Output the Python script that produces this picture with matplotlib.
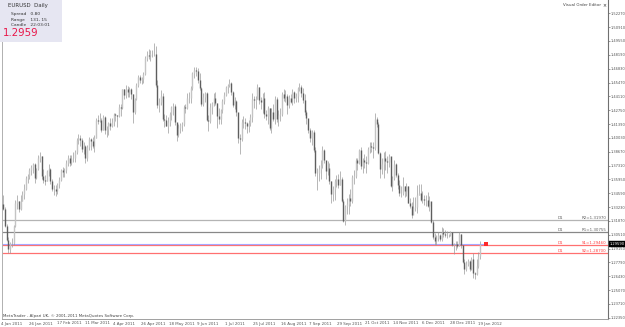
import matplotlib
matplotlib.use("Agg")
import matplotlib.pyplot as plt
import matplotlib.transforms as mtransforms
import pandas as pd
import numpy as np

# ---------------- data ----------------
symbol = "EURUSD"
timeframe = "Daily"
spread_txt = "0.80"
range_txt = "131, 15"
candle_txt = "22:03:01"
bid = 1.2959
first_open = 1.3357

dates = pd.bdate_range("2011-01-04", "2012-01-19")

closes = [
    # Jan 2011
    1.3305, 1.3140, 1.3000, 1.2910, 1.2965, 1.2970, 1.3140, 1.3360, 1.3383, 1.3300,
    1.3385, 1.3455, 1.3505, 1.3613, 1.3630, 1.3687, 1.3712, 1.3745, 1.3605, 1.3700,
    # Feb
    1.3800, 1.3820, 1.3625, 1.3585, 1.3580, 1.3680, 1.3695, 1.3580, 1.3500, 1.3500,
    1.3485, 1.3545, 1.3590, 1.3690, 1.3665, 1.3685, 1.3760, 1.3800, 1.3755, 1.3800,
    # Mar
    1.3800, 1.3860, 1.3980, 1.4000, 1.3985, 1.3895, 1.3925, 1.3800, 1.3910, 1.3995,
    1.3970, 1.3925, 1.4000, 1.4180, 1.4170, 1.4180, 1.4085, 1.4210, 1.4085, 1.4090,
    1.4145, 1.4120, 1.4160,
    # Apr
    1.4235, 1.4225, 1.4215, 1.4305, 1.4295, 1.4480, 1.4425, 1.4485, 1.4450, 1.4480,
    1.4430, 1.4255, 1.4380, 1.4525, 1.4600, 1.4570, 1.4580, 1.4635, 1.4790, 1.4815,
    1.4810,
    # May
    1.4830, 1.4830, 1.4830, 1.4525, 1.4325, 1.4355, 1.4415, 1.4185, 1.4175, 1.4120,
    1.4155, 1.4235, 1.4305, 1.4315, 1.4155, 1.4030, 1.4095, 1.4125, 1.4135, 1.4310,
    1.4295, 1.4390,
    # Jun
    1.4390, 1.4490, 1.4640, 1.4670, 1.4660, 1.4570, 1.4495, 1.4340, 1.4400, 1.4440,
    1.4180, 1.4165, 1.4305, 1.4345, 1.4395, 1.4350, 1.4220, 1.4185, 1.4275, 1.4365,
    1.4425, 1.4500,
    # Jul
    1.4525, 1.4545, 1.4450, 1.4330, 1.4370, 1.4260, 1.4005, 1.3990, 1.4160, 1.4160,
    1.4150, 1.4120, 1.4150, 1.4210, 1.4380, 1.4375, 1.4385, 1.4500, 1.4375, 1.4360,
    1.4395,
    # Aug
    1.4235, 1.4215, 1.4295, 1.4100, 1.4260, 1.4190, 1.4385, 1.4185, 1.4225, 1.4240,
    1.4435, 1.4395, 1.4410, 1.4330, 1.4395, 1.4360, 1.4450, 1.4395, 1.4410, 1.4495,
    1.4500, 1.4445, 1.4375,
    # Sep
    1.4255, 1.4200, 1.4080, 1.4005, 1.4060, 1.3880, 1.3655, 1.3660, 1.3695, 1.3740,
    1.3880, 1.3790, 1.3680, 1.3705, 1.3575, 1.3450, 1.3505, 1.3580, 1.3595, 1.3540,
    1.3600, 1.3385,
    # Oct
    1.3190, 1.3330, 1.3350, 1.3410, 1.3380, 1.3620, 1.3625, 1.3785, 1.3760, 1.3880,
    1.3725, 1.3790, 1.3765, 1.3760, 1.3890, 1.3920, 1.3915, 1.3900, 1.4190, 1.4140,
    1.3850,
    # Nov
    1.3695, 1.3750, 1.3800, 1.3775, 1.3765, 1.3825, 1.3530, 1.3605, 1.3750, 1.3640,
    1.3535, 1.3460, 1.3460, 1.3525, 1.3485, 1.3525, 1.3360, 1.3330, 1.3240, 1.3315,
    1.3320, 1.3445,
    # Dec
    1.3465, 1.3390, 1.3405, 1.3390, 1.3390, 1.3335, 1.3385, 1.3175, 1.3030, 1.2985,
    1.3015, 1.3045, 1.3010, 1.3075, 1.3060, 1.3050, 1.3045, 1.3050, 1.3075, 1.2945,
    1.2955, 1.2960,
    # Jan 2012
    1.2935, 1.3055, 1.2945, 1.2785, 1.2715, 1.2765, 1.2790, 1.2715, 1.2815, 1.2675,
    1.2665, 1.2740, 1.2845, 1.2959,
]

highs = [
    1.3440, 1.3325, 1.3160, 1.3030, 1.2980, 1.3020, 1.3150, 1.3395, 1.3440, 1.3385,
    1.3440, 1.3485, 1.3545, 1.3625, 1.3650, 1.3710, 1.3740, 1.3760, 1.3760, 1.3710,
    1.3830, 1.3860, 1.3825, 1.3700, 1.3640, 1.3690, 1.3745, 1.3705, 1.3600, 1.3535,
    1.3535, 1.3560, 1.3620, 1.3700, 1.3720, 1.3710, 1.3785, 1.3830, 1.3835, 1.3830,
    1.3860, 1.3880, 1.4000, 1.4040, 1.4035, 1.4000, 1.3960, 1.3935, 1.3930, 1.4010,
    1.4000, 1.4010, 1.4030, 1.4195, 1.4230, 1.4245, 1.4195, 1.4225, 1.4220, 1.4115,
    1.4155, 1.4195, 1.4200,
    1.4250, 1.4250, 1.4230, 1.4340, 1.4340, 1.4485, 1.4480, 1.4520, 1.4510, 1.4500,
    1.4490, 1.4430, 1.4395, 1.4540, 1.4620, 1.4620, 1.4600, 1.4650, 1.4810, 1.4860,
    1.4880,
    1.4870, 1.4865, 1.4940, 1.4905, 1.4570, 1.4395, 1.4475, 1.4440, 1.4235, 1.4225,
    1.4205, 1.4260, 1.4320, 1.4345, 1.4340, 1.4120, 1.4135, 1.4145, 1.4160, 1.4330,
    1.4340, 1.4440,
    1.4455, 1.4515, 1.4650, 1.4695, 1.4695, 1.4690, 1.4640, 1.4500, 1.4440, 1.4450,
    1.4450, 1.4230, 1.4345, 1.4360, 1.4440, 1.4450, 1.4345, 1.4300, 1.4285, 1.4385,
    1.4455, 1.4515,
    1.4530, 1.4580, 1.4550, 1.4460, 1.4400, 1.4375, 1.4230, 1.4040, 1.4185, 1.4220,
    1.4200, 1.4155, 1.4175, 1.4240, 1.4440, 1.4410, 1.4410, 1.4530, 1.4500, 1.4400,
    1.4440,
    1.4450, 1.4280, 1.4315, 1.4300, 1.4300, 1.4340, 1.4410, 1.4400, 1.4280, 1.4300,
    1.4450, 1.4480, 1.4470, 1.4430, 1.4425, 1.4430, 1.4485, 1.4460, 1.4440, 1.4500,
    1.4545, 1.4520, 1.4490,
    1.4430, 1.4280, 1.4130, 1.4100, 1.4080, 1.4080, 1.3910, 1.3705, 1.3735, 1.3790,
    1.3920, 1.3895, 1.3730, 1.3775, 1.3755, 1.3580, 1.3525, 1.3595, 1.3640, 1.3650,
    1.3680, 1.3615,
    1.3400, 1.3340, 1.3410, 1.3455, 1.3500, 1.3640, 1.3690, 1.3800, 1.3800, 1.3890,
    1.3915, 1.3800, 1.3840, 1.3820, 1.3910, 1.3960, 1.3960, 1.3960, 1.4245, 1.4210,
    1.4155,
    1.3860, 1.3800, 1.3860, 1.3870, 1.3820, 1.3845, 1.3815, 1.3630, 1.3790, 1.3760,
    1.3660, 1.3590, 1.3530, 1.3615, 1.3530, 1.3555, 1.3530, 1.3410, 1.3370, 1.3420,
    1.3425, 1.3535,
    1.3550, 1.3550, 1.3485, 1.3440, 1.3440, 1.3470, 1.3430, 1.3370, 1.3200, 1.3065,
    1.3045, 1.3080, 1.3060, 1.3125, 1.3120, 1.3100, 1.3085, 1.3060, 1.3090, 1.3080,
    1.2965, 1.2990,
    1.2990, 1.3075, 1.3055, 1.2950, 1.2815, 1.2790, 1.2815, 1.2800, 1.2835, 1.2875,
    1.2680, 1.2815, 1.2880, 1.2985,
]

lows = [
    1.3290, 1.3130, 1.2990, 1.2875, 1.2867, 1.2930, 1.2950, 1.3125, 1.3300, 1.3270,
    1.3290, 1.3380, 1.3400, 1.3490, 1.3560, 1.3600, 1.3640, 1.3660, 1.3560, 1.3600,
    1.3690, 1.3770, 1.3595, 1.3560, 1.3535, 1.3575, 1.3625, 1.3550, 1.3480, 1.3440,
    1.3430, 1.3450, 1.3510, 1.3580, 1.3620, 1.3620, 1.3660, 1.3730, 1.3730, 1.3740,
    1.3770, 1.3770, 1.3840, 1.3940, 1.3920, 1.3860, 1.3845, 1.3760, 1.3780, 1.3885,
    1.3880, 1.3900, 1.3860, 1.4000, 1.4135, 1.4160, 1.4060, 1.4080, 1.4040, 1.4010,
    1.4035, 1.4080, 1.4110,
    1.4120, 1.4165, 1.4110, 1.4210, 1.4220, 1.4290, 1.4385, 1.4390, 1.4405, 1.4400,
    1.4385, 1.4150, 1.4240, 1.4375, 1.4505, 1.4545, 1.4530, 1.4545, 1.4620, 1.4760,
    1.4780,
    1.4760, 1.4795, 1.4810, 1.4505, 1.4300, 1.4255, 1.4330, 1.4165, 1.4110, 1.4115,
    1.4050, 1.4120, 1.4180, 1.4230, 1.4130, 1.3968, 1.4010, 1.4050, 1.4075, 1.4120,
    1.4245, 1.4290,
    1.4345, 1.4350, 1.4475, 1.4590, 1.4610, 1.4540, 1.4475, 1.4320, 1.4315, 1.4360,
    1.4170, 1.4074, 1.4145, 1.4240, 1.4320, 1.4330, 1.4100, 1.4140, 1.4135, 1.4250,
    1.4340, 1.4410,
    1.4440, 1.4500, 1.4425, 1.4310, 1.4285, 1.4220, 1.3950, 1.3840, 1.3970, 1.4100,
    1.4090, 1.4050, 1.4060, 1.4120, 1.4160, 1.4300, 1.4285, 1.4380, 1.4340, 1.4290,
    1.4250,
    1.4200, 1.4180, 1.4140, 1.4080, 1.4050, 1.4170, 1.4135, 1.4160, 1.4120, 1.4170,
    1.4220, 1.4370, 1.4360, 1.4240, 1.4300, 1.4350, 1.4330, 1.4350, 1.4360, 1.4360,
    1.4460, 1.4400, 1.4350,
    1.4230, 1.4140, 1.4050, 1.3960, 1.3930, 1.3860, 1.3630, 1.3495, 1.3580, 1.3600,
    1.3710, 1.3760, 1.3600, 1.3640, 1.3550, 1.3360, 1.3380, 1.3390, 1.3520, 1.3510,
    1.3540, 1.3370,
    1.3180, 1.3145, 1.3250, 1.3250, 1.3335, 1.3360, 1.3550, 1.3610, 1.3690, 1.3750,
    1.3700, 1.3655, 1.3710, 1.3655, 1.3745, 1.3850, 1.3860, 1.3800, 1.3880, 1.4110,
    1.3840,
    1.3610, 1.3650, 1.3610, 1.3690, 1.3660, 1.3720, 1.3520, 1.3480, 1.3590, 1.3615,
    1.3500, 1.3430, 1.3420, 1.3440, 1.3425, 1.3435, 1.3360, 1.3310, 1.3215, 1.3290,
    1.3280, 1.3260,
    1.3440, 1.3380, 1.3360, 1.3340, 1.3335, 1.3325, 1.3280, 1.3165, 1.3010, 1.2945,
    1.2945, 1.2985, 1.2985, 1.2990, 1.3030, 1.3030, 1.3020, 1.3030, 1.3035, 1.2935,
    1.2860, 1.2900,
    1.2925, 1.2935, 1.2925, 1.2770, 1.2665, 1.2690, 1.2740, 1.2690, 1.2700, 1.2625,
    1.2620, 1.2655, 1.2725, 1.2815,
]

opens = [first_open] + closes[:-1]

# price scale labels (right axis)
price_ticks = [1.52270, 1.50910, 1.49550, 1.48190, 1.46830, 1.45470, 1.44110,
               1.42750, 1.41390, 1.40030, 1.38670, 1.37310, 1.35950, 1.34590,
               1.33230, 1.31870, 1.30510, 1.29150, 1.27790, 1.26430, 1.25070,
               1.23710, 1.22350]

# date labels along the bottom: every 16 bars
date_label_text = ["4 Jan 2011", "26 Jan 2011", "17 Feb 2011", "11 Mar 2011",
                   "4 Apr 2011", "26 Apr 2011", "18 May 2011", "9 Jun 2011",
                   "1 Jul 2011", "25 Jul 2011", "16 Aug 2011", "7 Sep 2011",
                   "29 Sep 2011", "21 Oct 2011", "14 Nov 2011", "6 Dec 2011",
                   "28 Dec 2011", "19 Jan 2012"]

# daily pivot levels
pivot_names = ["R2", "R1", "S1", "S2"]
pivot_values = [1.31970, 1.30755, 1.29460, 1.28700]

# ---------------- figure ----------------
W, H = 625, 327
fig = plt.figure(figsize=(W / 100, H / 100), dpi=100)
fig.patch.set_facecolor("white")

ax_l, ax_r, ax_t, ax_b = 2, 608, 0, 319
ax = fig.add_axes([ax_l / W, (H - ax_b) / H, (ax_r - ax_l) / W, (ax_b - ax_t) / H])
ax.set_facecolor("white")

px_per_bar = 1.754
n = len(closes)
x = np.arange(n)
ax.set_xlim(-0.6, -0.6 + (ax_r - ax_l) / px_per_bar)
k = 0.000983
p_top = 1.5358
ax.set_ylim(p_top - (ax_b - ax_t) * k, p_top)

o = np.array(opens); c = np.array(closes); h = np.array(highs); l = np.array(lows)
up = c >= o
ax.vlines(x, l, h, colors="#9a9a9a", linewidth=0.5, zorder=2)
bt = np.maximum(o, c); bb = np.minimum(o, c)
ax.vlines(x[up], bb[up], bt[up], colors="#c4c4c4", linewidth=1.0, zorder=3)
ax.vlines(x[~up], bb[~up], bt[~up], colors="#5e5e5e", linewidth=1.0, zorder=3)

# spines / axis
ax.spines["top"].set_visible(False)
ax.spines["left"].set_color("#b0b0b0")
ax.spines["left"].set_linewidth(0.7)
ax.spines["right"].set_color("#707070")
ax.spines["right"].set_linewidth(0.8)
ax.spines["bottom"].set_color("#a0a0a0")
ax.spines["bottom"].set_linewidth(0.7)

ax.yaxis.tick_right()
ax.set_yticks(price_ticks)
ax.set_yticklabels([f"{v:.5f}" for v in price_ticks])
ax.tick_params(axis="y", which="both", direction="out", length=1.2, width=0.5,
               colors="#707070", labelsize=2.6, labelcolor="#555555", pad=0.4)
ax.set_xticks([])

# date labels
for j, txt in enumerate(date_label_text):
    bi = j * 16
    ax.annotate(txt, xy=(bi, 0), xycoords=("data", "axes fraction"),
                xytext=(-2.5, -2.5), textcoords="offset pixels",
                ha="left", va="top", fontsize=2.9, color="#555555",
                annotation_clip=False)

# pivot lines
piv_colors = ["#b4b4b4", "#888888", "#ff7070", "#ff7070"]
txt_colors = ["#606060", "#606060", "#ff4040", "#ff4040"]
for val, lc in zip(pivot_values, piv_colors):
    ax.axhline(val, color=lc, linewidth=0.9, zorder=1)

trans = mtransforms.blended_transform_factory(fig.transFigure, ax.transData)
for name, val, tc in zip(pivot_names, pivot_values, txt_colors):
    ax.text(558 / W, val, "D1", transform=trans, fontsize=2.9, color=tc,
            ha="left", va="bottom")
    ax.text(606 / W, val, f"{name}={val:.5f}", transform=trans, fontsize=2.9,
            color=tc, ha="right", va="bottom")

# bid line + marker
ax.plot([-0.6, 275.5], [bid, bid], color="#a8a8ff", linewidth=0.8, zorder=1)
ax.plot([275.5], [bid], marker="s", markersize=2.6, color="#ff2a2a",
        markeredgewidth=0, zorder=5)

# current price box on the price scale
ax.text(1.003, bid, f"{bid:.5f}", transform=ax.get_yaxis_transform(),
        fontsize=2.6, color="white", ha="left", va="center",
        bbox=dict(boxstyle="square,pad=0.3", fc="black", ec="black", lw=0.3),
        clip_on=False, zorder=6)

# info panel top-left
fig.patches.append(plt.Rectangle((0, 1 - 42 / H), 62 / W, 42 / H,
                                 transform=fig.transFigure, fc="#e6e6f2",
                                 ec="none", zorder=4))


def ftext(xp, yp, s, **kw):
    fig.text(xp / W, 1 - yp / H, s, **kw)


ftext(8, 5.5, f"{symbol}  {timeframe}", fontsize=3.9, color="#333333", va="center", zorder=5)
ftext(11, 13.5, f"Spread   {spread_txt}", fontsize=3.2, color="#333333", va="center", zorder=5)
ftext(11, 19.5, f"Range    {range_txt}", fontsize=3.2, color="#333333", va="center", zorder=5)
ftext(11, 25.5, f"Candle   {candle_txt}", fontsize=3.2, color="#333333", va="center", zorder=5)
ftext(3, 33.5, f"{bid:.4f}", fontsize=7.4, color="#e8174a", va="center", zorder=5)

# top-right label
ftext(601, 5.5, "Visual Order Editor", fontsize=2.9, color="#444444", va="center", ha="right")
ftext(602, 5.5, "\u00d7", fontsize=3.4, color="#222222", va="center", ha="left")

# bottom-left copyright
ftext(3, 315.5, "MetaTrader - Alpari UK, \u00a9 2001-2011 MetaQuotes Software Corp.",
      fontsize=2.9, color="#444444", va="center")

fig.savefig("out.png", dpi=100, facecolor="white")
